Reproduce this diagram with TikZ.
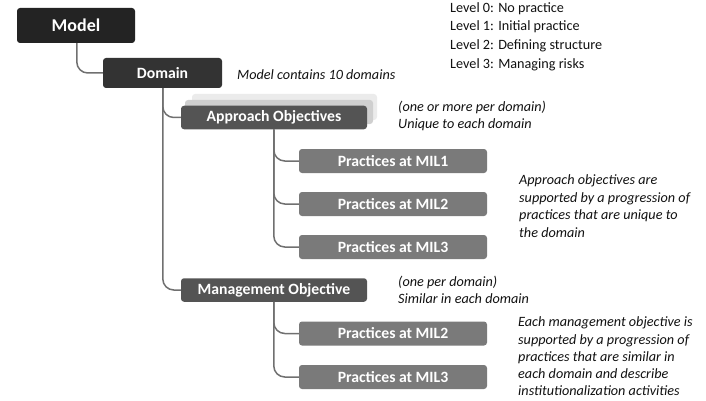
\documentclass[tikz,border=0pt]{standalone}
\usepackage{fontspec}
\setmainfont{Carlito}
\definecolor{cmodel}{HTML}{232323}
\definecolor{cdomain}{HTML}{333333}
\definecolor{cobj}{HTML}{545454}
\definecolor{cprac}{HTML}{7A7A7A}
\definecolor{cconn}{HTML}{707070}
\definecolor{cshadowa}{HTML}{CFCFCF}
\definecolor{cshadowb}{HTML}{EBEBEB}
\definecolor{ctext}{HTML}{111111}
\tikzset{
  box/.style={rounded corners=3pt, inner sep=0pt, text=white, font=\bfseries\fontsize{15.7}{18}\selectfont},
  modelbox/.style={box, fill=cmodel, minimum width=118pt, minimum height=35pt, font=\bfseries\fontsize{18}{21}\selectfont},
  domainbox/.style={box, fill=cdomain, minimum width=119pt, minimum height=30pt},
  objbox/.style={box, fill=cobj, minimum width=186pt, minimum height=23.5pt},
  pracbox/.style={box, fill=cprac, minimum width=188pt, minimum height=24pt},
  conn/.style={draw=cconn, line width=1.5pt, rounded corners=11pt},
  note/.style={text=ctext, font=\itshape\fontsize{14.2}{17.6}\selectfont, align=left, anchor=west, inner sep=0pt},
  lownote/.style={note, font=\itshape\fontsize{14.2}{17.3}\selectfont},
  levels/.style={text=ctext, font=\fontsize{14.2}{18.7}\selectfont, align=left, anchor=north west, inner sep=0pt}
}
\begin{document}
\begin{tikzpicture}[x=1pt, y=-1pt]
\useasboundingbox (0,0) rectangle (706,401);
% shadow layers behind Approach Objectives
\fill[cshadowb, rounded corners=3pt] (192,94) rectangle (377,120);
\fill[cshadowa, rounded corners=3pt] (185,100) rectangle (373,124);
% boxes
\node[modelbox] (model) at (76,25.5) {Model};
\node[domainbox] (domain) at (162.5,73) {Domain};
\node[objbox] (approach) at (274,117.5) {Approach Objectives};
\node[pracbox] (a1) at (393,161) {Practices at MIL1};
\node[pracbox] (a2) at (393,204) {Practices at MIL2};
\node[pracbox] (a3) at (393,247) {Practices at MIL3};
\node[objbox] (mgmt) at (274,290) {Management Objective};
\node[pracbox] (m2) at (393,333.5) {Practices at MIL2};
\node[pracbox] (m3) at (393,377) {Practices at MIL3};
% connectors
\draw[conn] ([xshift=60pt]model.south west) |- (domain.west);
\draw[conn] ([xshift=60pt]domain.south west) |- (approach.west);
\draw[conn] ([xshift=60pt]domain.south west) |- (mgmt.west);
\draw[conn] ([xshift=93pt]approach.south west) |- (a1.west);
\draw[conn] ([xshift=93pt]approach.south west) |- (a2.west);
\draw[conn] ([xshift=93pt]approach.south west) |- (a3.west);
\draw[conn] ([xshift=93pt]mgmt.south west) |- (m2.west);
\draw[conn] ([xshift=93pt]mgmt.south west) |- (m3.west);
% texts
\node[levels] (lv) at (450,2) {Level 0: No practice\\Level 1: Initial practice\\Level 2: Defining structure\\Level 3: Managing risks};
\node[note] (n1) at (237,75) {Model contains 10 domains};
\node[note] (n2) at (398,116) {(one or more per domain)\\Unique to each domain};
\node[note] (n3) at (519,206) {Approach objectives are\\supported by a progression of\\practices that are unique to\\the domain};
\node[note] (n4) at (398,290) {(one per domain)\\Similar in each domain};
\node[lownote] (n5) at (518,356.5) {Each management objective is\\supported by a progression of\\practices that are similar in\\each domain and describe\\institutionalization activities};
\end{tikzpicture}
\end{document}
